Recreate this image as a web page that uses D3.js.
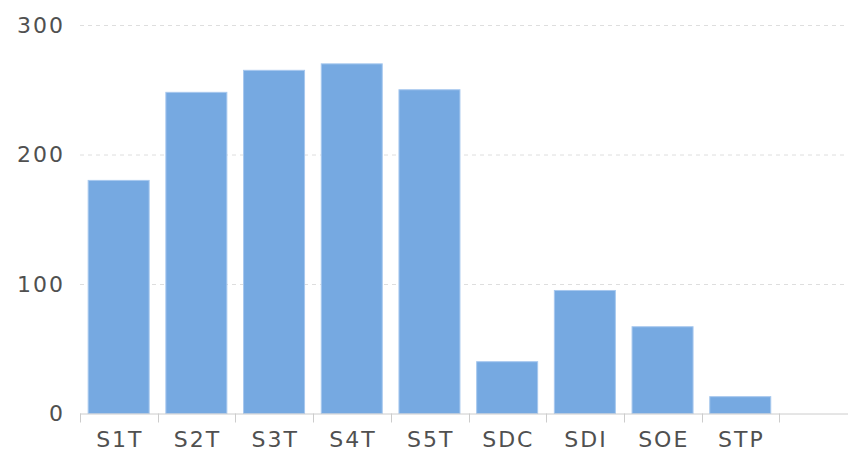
<!DOCTYPE html>
<html>
<head>
<meta charset="utf-8">
<script src="https://cdnjs.cloudflare.com/ajax/libs/d3/7.8.5/d3.min.js"></script>
<style>
  body { margin: 0; background: #fff; }
  svg text { font-family: "DejaVu Sans", sans-serif; fill: #505050; letter-spacing: 2px; }
</style>
</head>
<body>
<div id="chart"></div>
<script>
// categories and values (last slot is empty, as in the original)
var categories = ["S1T", "S2T", "S3T", "S4T", "S5T", "SDC", "SDI", "SOE", "STP", ""];
var values     = [180, 248, 265, 270, 250, 40, 95, 67, 13, null];
var yTicks     = [0, 100, 200, 300];

var width = 848, height = 453;
var margin = {top: 25, right: 0, bottom: 40, left: 80};

var svg = d3.select("#chart").append("svg")
    .attr("width", width)
    .attr("height", height);

var x = d3.scaleBand()
    .domain(categories.map(function(d, i){ return i; }))
    .range([margin.left, margin.left + 77.7 * categories.length]);

var y = d3.scaleLinear()
    .domain([0, 300])
    .range([413.5, margin.top]);

// dashed grid lines
svg.selectAll("line.grid")
    .data(yTicks.filter(function(d){ return d > 0; }))
    .enter().append("line")
    .attr("class", "grid")
    .attr("x1", margin.left)
    .attr("x2", width)
    .attr("y1", function(d){ return y(d) + 0.5; })
    .attr("y2", function(d){ return y(d) + 0.5; })
    .attr("stroke", "#dedede")
    .attr("stroke-dasharray", "4,4");

// y labels
svg.selectAll("text.ylab")
    .data(yTicks)
    .enter().append("text")
    .attr("class", "ylab")
    .attr("x", 65)
    .attr("y", function(d){ return y(d); })
    .attr("dy", "0.36em")
    .attr("text-anchor", "end")
    .style("font-size", "22px")
    .text(function(d){ return d; });

// bars
var data = values.map(function(v, i){ return {i: i, v: v}; })
    .filter(function(d){ return d.v != null; });
var bw = x.bandwidth();
svg.selectAll("rect.bar")
    .data(data)
    .enter().append("rect")
    .attr("class", "bar")
    .attr("x", function(d){ return x(d.i) + bw * 0.105; })
    .attr("width", bw * 0.785)
    .attr("y", function(d){ return y(d.v); })
    .attr("height", function(d){ return y(0) - y(d.v); })
    .attr("fill", "#76a9e1")
    .attr("stroke", "#a7c8ee")
    .attr("stroke-width", 1);

// x axis line and ticks
svg.append("line")
    .attr("x1", margin.left)
    .attr("x2", width)
    .attr("y1", y(0) + 0.5)
    .attr("y2", y(0) + 0.5)
    .attr("stroke", "#cccccc");

svg.selectAll("line.tick")
    .data(categories.map(function(d, i){ return i; }))
    .enter().append("line")
    .attr("class", "tick")
    .attr("x1", function(d){ return Math.round(x(d)) + 0.5; })
    .attr("x2", function(d){ return Math.round(x(d)) + 0.5; })
    .attr("y1", y(0))
    .attr("y2", y(0) + 9)
    .attr("stroke", "#cccccc");

svg.selectAll("text.xlab")
    .data(categories)
    .enter().append("text")
    .attr("class", "xlab")
    .attr("x", function(d, i){ return x(i) + bw / 2 + 1; })
    .attr("y", 447)
    .attr("text-anchor", "middle")
    .style("font-size", "22px")
    .text(function(d){ return d; });
</script>
</body>
</html>
